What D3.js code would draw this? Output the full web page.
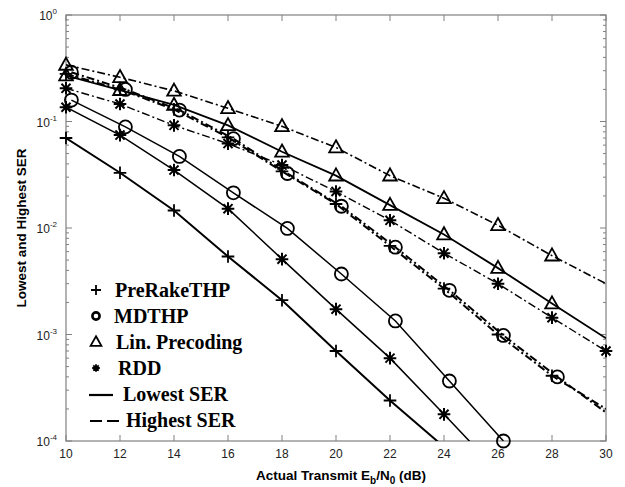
<!DOCTYPE html>
<html>
<head>
<meta charset="utf-8">
<script src="https://cdn.jsdelivr.net/npm/d3@7"></script>
<style>
body { margin: 0; background: #fff; }
svg { display: block; }
</style>
</head>
<body>
<svg></svg>
<script>
var svgWidth = 625;
var svgHeight = 487;
var margin = {left: 66, right: 19, top: 15, bottom: 46};

// x values (dB)
var xEven = [10, 12, 14, 16, 18, 20, 22, 24, 26, 28, 30];
var xMd = [10.2, 12.2, 14.2, 16.2, 18.2, 20.2, 22.2, 24.2, 26.2, 28.2, 30.2];

// lowest SER (solid)
var preRakeLow = [0.07, 0.033, 0.0146, 0.0054, 0.0021, 0.0007, 0.00024, 0.000088];
var mdthpLow = [0.159, 0.089, 0.047, 0.0214, 0.0099, 0.0037, 0.00134, 0.000366, 0.0001];
var linLow = [0.27, 0.197, 0.143, 0.092, 0.052, 0.031, 0.0164, 0.0087, 0.0042, 0.00195, 0.00092];
var rddLow = [0.136, 0.0745, 0.035, 0.0152, 0.0051, 0.00173, 0.0006, 0.000178, 0.000052];

// highest SER (dash-dot)
var preRakeHigh = [0.28, 0.2, 0.13, 0.071, 0.034, 0.0168, 0.0068, 0.0027, 0.001, 0.00041, 0.0002];
var mdthpHigh = [0.29, 0.2, 0.128, 0.069, 0.0325, 0.016, 0.0066, 0.0026, 0.00098, 0.0004, 0.00017];
var linHigh = [0.34, 0.26, 0.194, 0.133, 0.09, 0.057, 0.031, 0.019, 0.0106, 0.0055, 0.003];
var rddHigh = [0.205, 0.146, 0.092, 0.062, 0.039, 0.022, 0.0118, 0.0058, 0.003, 0.00144, 0.0007];

var xTicks = [10, 12, 14, 16, 18, 20, 22, 24, 26, 28, 30];
var yTicks = [1, 0.1, 0.01, 0.001, 0.0001];
var yExp = ["0", "-1", "-2", "-3", "-4"];

var legendNames = ["PreRakeTHP", "MDTHP", "Lin. Precoding", "RDD", "Lowest SER", "Highest SER"];
var legendMarks = ["plus", "circle", "tri", "star"];

// marker drawn on points up to markN
var series = [
    {x: xEven, y: preRakeLow, m: "plus", dash: null, w: 2, markN: 8},
    {x: xMd, y: mdthpLow, m: "circle", dash: null, w: 1.5, markN: 9},
    {x: xEven, y: linLow, m: "tri", dash: null, w: 1.8, markN: 10},
    {x: xEven, y: rddLow, m: "star", dash: null, w: 1.5, markN: 9},
    {x: xEven, y: preRakeHigh, m: "plus", dash: "8,3,2,3", w: 2, markN: 10},
    {x: xMd, y: mdthpHigh, m: "circle", dash: "8,3,2,3", w: 2, markN: 10},
    {x: xEven, y: linHigh, m: "tri", dash: "8,3,2,3", w: 1.6, markN: 10},
    {x: xEven, y: rddHigh, m: "star", dash: "8,3,2,3", w: 1.4, markN: 11}
];

var svg = d3.select('svg')
    .attr("width", svgWidth)
    .attr("height", svgHeight);

var x = d3.scaleLinear().domain([10, 30]).range([margin.left, svgWidth - margin.right]);
var y = d3.scaleLog().domain([1e-4, 1]).range([svgHeight - margin.bottom, margin.top]);

var frameColor = "#808080";

svg.append("clipPath").attr("id", "clip")
    .append("rect")
    .attr("x", x(10)).attr("y", y(1))
    .attr("width", x(30) - x(10)).attr("height", y(1e-4) - y(1));

// minor + major y ticks
var minors = [];
for (var e = -4; e < 0; e++) {
    for (var k = 2; k <= 9; k++) minors.push(k * Math.pow(10, e));
}

function tickLines(xpos, dir) {
    var g = svg.append("g");
    g.selectAll(".mn").data(minors).enter().append("line")
        .attr("x1", xpos).attr("x2", xpos + dir * 3)
        .attr("y1", function(d) { return y(d); })
        .attr("y2", function(d) { return y(d); })
        .attr("stroke", frameColor).attr("stroke-width", 1);
    g.selectAll(".mj").data(yTicks).enter().append("line")
        .attr("x1", xpos).attr("x2", xpos + dir * 6)
        .attr("y1", function(d) { return y(d); })
        .attr("y2", function(d) { return y(d); })
        .attr("stroke", frameColor).attr("stroke-width", 1);
}
tickLines(x(10), 1);
tickLines(x(30), -1);

svg.append("g").selectAll("line").data(xTicks).enter().append("line")
    .attr("x1", function(d) { return x(d); }).attr("x2", function(d) { return x(d); })
    .attr("y1", y(1e-4)).attr("y2", y(1e-4) - 6)
    .attr("stroke", frameColor);
svg.append("g").selectAll("line").data(xTicks).enter().append("line")
    .attr("x1", function(d) { return x(d); }).attr("x2", function(d) { return x(d); })
    .attr("y1", y(1)).attr("y2", y(1) + 6)
    .attr("stroke", frameColor);

svg.append("rect")
    .attr("x", x(10)).attr("y", y(1))
    .attr("width", x(30) - x(10)).attr("height", y(1e-4) - y(1))
    .attr("fill", "none").attr("stroke", frameColor).attr("stroke-width", 1.2);

// tick labels
svg.append("g").selectAll("text").data(xTicks).enter().append("text")
    .attr("x", function(d) { return x(d); })
    .attr("y", y(1e-4) + 17)
    .attr("text-anchor", "middle")
    .attr("font-family", "Liberation Sans, Arial, sans-serif")
    .attr("font-size", 12)
    .attr("fill", "#222")
    .text(function(d) { return d; });

var yl = svg.append("g").selectAll("text").data(yTicks).enter().append("text")
    .attr("x", x(10) - 9)
    .attr("y", function(d) { return y(d) + 5; })
    .attr("text-anchor", "end")
    .attr("font-family", "Liberation Sans, Arial, sans-serif")
    .attr("font-size", 12)
    .attr("fill", "#222");
yl.append("tspan").text("10");
yl.append("tspan").attr("dy", -6).attr("font-size", 8).text(function(d, i) { return yExp[i]; });

// axis titles
var xt = svg.append("text")
    .attr("x", 341).attr("y", 480)
    .attr("text-anchor", "middle")
    .attr("font-family", "Liberation Sans, Arial, sans-serif")
    .attr("font-weight", "bold")
    .attr("font-size", 13.5);
xt.append("tspan").text("Actual Transmit E");
xt.append("tspan").attr("dy", 4).attr("font-size", 10).text("b");
xt.append("tspan").attr("dy", -4).text("/N");
xt.append("tspan").attr("dy", 4).attr("font-size", 10).text("0");
xt.append("tspan").attr("dy", -4).text(" (dB)");

svg.append("text")
    .attr("transform", "translate(26," + ((y(1) + y(1e-4)) / 2) + ") rotate(-90)")
    .attr("text-anchor", "middle")
    .attr("font-family", "Liberation Sans, Arial, sans-serif")
    .attr("font-weight", "bold")
    .attr("font-size", 13.5)
    .text("Lowest and Highest SER");

// lines
var line = d3.line()
    .x(function(d) { return x(d[0]); })
    .y(function(d) { return y(d[1]); });

var plot = svg.append("g");
series.forEach(function(s) {
    var pts = s.y.map(function(v, i) { return [s.x[i], v]; });
    plot.append("path")
        .datum(pts)
        .attr("clip-path", "url(#clip)")
        .attr("d", line)
        .attr("fill", "none")
        .attr("stroke", "#000")
        .attr("stroke-width", s.w)
        .attr("stroke-dasharray", s.dash);
});

function markerPath(m, r) {
    var c = r * 0.72;
    if (m == "plus") return "M" + (-r) + ",0H" + r + "M0," + (-r) + "V" + r;
    if (m == "circle") return "M" + r + ",0A" + r + "," + r + " 0 1,1 " + (-r) + ",0A" + r + "," + r + " 0 1,1 " + r + ",0Z";
    if (m == "tri") return "M0," + (-r * 1.15) + "L" + (r * 1.08) + "," + (r * 0.77) + "L" + (-r * 1.08) + "," + (r * 0.77) + "Z";
    if (m == "star") return "M" + (-r) + ",0H" + r + "M0," + (-r) + "V" + r +
        "M" + (-c) + "," + (-c) + "L" + c + "," + c + "M" + (-c) + "," + c + "L" + c + "," + (-c);
}

series.forEach(function(s) {
    var pts = s.y.slice(0, s.markN).map(function(v, i) { return [s.x[i], v]; })
        .filter(function(d) { return d[1] >= 1e-4 && d[0] <= 30.5; });
    plot.selectAll(null).data(pts).enter().append("path")
        .attr("transform", function(d) { return "translate(" + x(d[0]) + "," + y(d[1]) + ")"; })
        .attr("d", markerPath(s.m, s.m == "circle" ? 6.5 : 6.3))
        .attr("fill", "none")
        .attr("stroke", "#000")
        .attr("stroke-width", s.m == "star" ? 2 : 1.8);
});

// legend
var lg = svg.append("g").attr("font-family", "Liberation Serif, Times New Roman, serif")
    .attr("font-weight", "bold");
var rowY = [297, 323, 349, 375, 401, 427];
var textX = [115, 114, 116, 118, 123, 126];
legendNames.forEach(function(n, i) {
    lg.append("text").attr("x", textX[i]).attr("y", rowY[i])
        .attr("font-size", 20).text(n);
});
var legR = [5, 3.6, 5, 3.8];
legendMarks.forEach(function(m, i) {
    lg.append("path")
        .attr("transform", "translate(96," + (rowY[i] - 7) + ")")
        .attr("d", markerPath(m, legR[i]))
        .attr("fill", "none")
        .attr("stroke", "#000")
        .attr("stroke-width", i == 1 ? 2.6 : 1.8);
});
lg.append("line").attr("x1", 89).attr("x2", 113).attr("y1", rowY[4] - 6).attr("y2", rowY[4] - 6)
    .attr("stroke", "#000").attr("stroke-width", 2.2);
lg.append("line").attr("x1", 90).attr("x2", 120).attr("y1", rowY[5] - 6).attr("y2", rowY[5] - 6)
    .attr("stroke", "#000").attr("stroke-width", 2.2).attr("stroke-dasharray", "12,5");
</script>
</body>
</html>
